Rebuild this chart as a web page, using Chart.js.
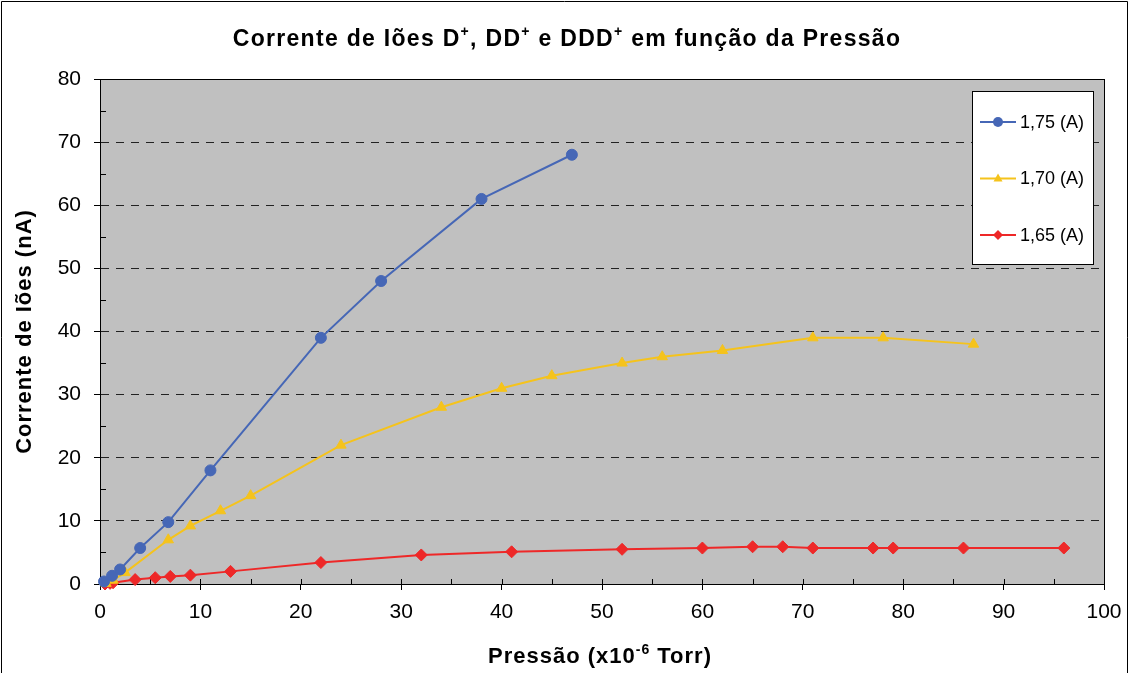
<!DOCTYPE html>
<html>
<head>
<meta charset="utf-8">
<script src="https://cdn.jsdelivr.net/npm/chart.js@4/dist/chart.umd.min.js"></script>
<style>
    html, body { margin: 0; padding: 0; background: #fff; }
    #wrap { width: 1135px; height: 673px; }
</style>
</head>
<body>
<div id="wrap"><canvas id="ionChart" width="1135" height="673"></canvas></div>
<script>
// values
const x175 = [0.4, 1.2, 2, 4, 6.8, 11, 22, 28, 38, 47];
const y175 = [0.4, 1.3, 2.3, 5.7, 9.8, 18, 39, 48, 61, 68];
const x170 = [0.6, 1.3, 2.5, 6.8, 9, 12, 15, 24, 34, 40, 45, 52, 56, 62, 71, 78, 87];
const y170 = [0.1, 0.6, 1.8, 7, 9.2, 11.6, 14, 22, 28, 31, 33, 35, 36, 37, 39, 39, 38];
const x165 = [0.5, 1, 1.3, 3.5, 5.5, 7, 9, 13, 22, 32, 41, 52, 60, 65, 68, 71, 77, 79, 86, 96];
const y165 = [0, 0.1, 0.2, 0.7, 1.0, 1.2, 1.4, 2.0, 3.4, 4.6, 5.1, 5.5, 5.7, 5.9, 5.9, 5.7, 5.7, 5.7, 5.7, 5.7];
const seriesNames = ["1,75 (A)", "1,70 (A)", "1,65 (A)"];
const seriesColors = ["#4667B6", "#F5C31C", "#EE2828"];
const seriesMarkers = ["circle", "triangle", "rectRot"];
const xTicks = [0, 10, 20, 30, 40, 50, 60, 70, 80, 90, 100];
const yTicks = [0, 10, 20, 30, 40, 50, 60, 70, 80];

const FONT = "'Liberation Sans', Arial, sans-serif";

function toPoints(xs, ys) {
    return xs.map(function (x, i) { return { x: x, y: ys[i] }; });
}

function makeDataset(i, xs, ys) {
    return {
        label: seriesNames[i],
        data: toPoints(xs, ys),
        borderColor: seriesColors[i],
        backgroundColor: seriesColors[i],
        borderWidth: 2,
        pointStyle: seriesMarkers[i],
        pointRadius: i === 0 ? 5.5 : 6,
        pointBorderWidth: 1,
        showLine: true,
        tension: 0,
        clip: false
    };
}

// bold text made of parts, superscript parts raised and smaller
function drawRich(ctx, parts, cx, cy, size, spacing) {
    let total = 0;
    ctx.letterSpacing = spacing + "px";
    parts.forEach(function (p) {
        ctx.font = "bold " + (p.sup ? Math.round(size * 0.62) : size) + "px " + FONT;
        p.w = ctx.measureText(p.t).width;
        total += p.w;
    });
    let x = cx - total / 2;
    ctx.textAlign = "left";
    ctx.textBaseline = "alphabetic";
    parts.forEach(function (p) {
        ctx.font = "bold " + (p.sup ? Math.round(size * 0.62) : size) + "px " + FONT;
        ctx.fillText(p.t, x, p.sup ? cy - size * 0.42 : cy);
        x += p.w;
    });
    ctx.letterSpacing = "0px";
}

function drawMarker(ctx, style, x, y, r) {
    ctx.beginPath();
    if (style === "circle") {
        ctx.arc(x, y, r, 0, Math.PI * 2);
    } else if (style === "triangle") {
        ctx.moveTo(x, y - r);
        ctx.lineTo(x + r * 0.9, y + r * 0.6);
        ctx.lineTo(x - r * 0.9, y + r * 0.6);
        ctx.closePath();
    } else {
        ctx.moveTo(x, y - r);
        ctx.lineTo(x + r, y);
        ctx.lineTo(x, y + r);
        ctx.lineTo(x - r, y);
        ctx.closePath();
    }
    ctx.fill();
}

const framePlugin = {
    id: "frame",
    beforeDraw: function (chart) {
        const ctx = chart.ctx;
        const a = chart.chartArea;
        ctx.save();
        ctx.fillStyle = "#fff";
        ctx.fillRect(0, 0, chart.width, chart.height);
        ctx.fillStyle = "#C0C0C0";
        ctx.fillRect(a.left, a.top, a.right - a.left, a.bottom - a.top);
        ctx.restore();
    },
    beforeDatasetsDraw: function (chart) {
        const ctx = chart.ctx;
        const a = chart.chartArea;
        const xs = chart.scales.x;
        const ys = chart.scales.y;
        ctx.save();
        ctx.strokeStyle = "#000";
        ctx.lineWidth = 1;
        ctx.strokeRect(a.left + 0.5, a.top + 0.5, a.right - a.left, a.bottom - a.top);
        // minor ticks inside the plot, major x ticks also cross the axis
        ctx.beginPath();
        for (let v = 5; v < 80; v += 10) {
            const py = Math.round(ys.getPixelForValue(v)) + 0.5;
            ctx.moveTo(a.left, py);
            ctx.lineTo(a.left + 6, py);
        }
        for (let v = 5; v < 100; v += 5) {
            const px = Math.round(xs.getPixelForValue(v)) + 0.5;
            ctx.moveTo(px, a.bottom);
            ctx.lineTo(px, a.bottom - 5);
        }
        ctx.stroke();
        ctx.restore();
    },
    afterDraw: function (chart) {
        const ctx = chart.ctx;
        const a = chart.chartArea;
        ctx.save();
        // outer frame
        ctx.strokeStyle = "#000";
        ctx.lineWidth = 1;
        ctx.beginPath();
        ctx.moveTo(1.5, chart.height);
        ctx.lineTo(1.5, 1.5);
        ctx.lineTo(1127.5, 1.5);
        ctx.lineTo(1127.5, chart.height);
        ctx.stroke();

        ctx.fillStyle = "#000";
        drawRich(ctx, [
            { t: "Corrente de Iões D" }, { t: "+", sup: true },
            { t: ", DD" }, { t: "+", sup: true },
            { t: " e DDD" }, { t: "+", sup: true },
            { t: " em função da Pressão" }
        ], 567, 46, 23, 1.3);
        drawRich(ctx, [
            { t: "Pressão (x10" }, { t: "-6", sup: true }, { t: " Torr)" }
        ], 600, 663, 22, 1);

        // y axis title
        ctx.save();
        ctx.translate(31, (a.top + a.bottom) / 2);
        ctx.rotate(-Math.PI / 2);
        ctx.textBaseline = "middle";
        drawRich(ctx, [{ t: "Corrente de Iões (nA)" }], 0, 0, 22, 1);
        ctx.restore();

        // legend box
        const lx = a.right - 132, ly = a.top + 12, lw = 121, lh = 173;
        ctx.fillStyle = "#fff";
        ctx.fillRect(lx, ly, lw, lh);
        ctx.strokeStyle = "#000";
        ctx.lineWidth = 1;
        ctx.strokeRect(lx + 0.5, ly + 0.5, lw, lh);
        chart.data.datasets.forEach(function (ds, i) {
            const cy = ly + 31 + i * 56.5;
            ctx.strokeStyle = ds.borderColor;
            ctx.lineWidth = 2;
            ctx.beginPath();
            ctx.moveTo(lx + 8, cy);
            ctx.lineTo(lx + 44, cy);
            ctx.stroke();
            ctx.fillStyle = ds.backgroundColor;
            drawMarker(ctx, ds.pointStyle, lx + 26, cy, 5);
            ctx.fillStyle = "#000";
            ctx.font = "18px " + FONT;
            ctx.textAlign = "left";
            ctx.textBaseline = "middle";
            ctx.fillText(ds.label, lx + 48, cy + 1);
        });
        ctx.restore();
    }
};

function chart() {
    const ctx = document.getElementById("ionChart").getContext("2d");
    const ionChart = new Chart(ctx, {
        type: "scatter",
        data: {
            datasets: [
                makeDataset(0, x175, y175),
                makeDataset(1, x170, y170),
                makeDataset(2, x165, y165)
            ]
        },
        options: {
            responsive: false,
            animation: false,
            layout: { padding: { top: 79, right: 31, left: 0, bottom: 0 } },
            plugins: {
                legend: { display: false },
                title: { display: false },
                tooltip: { enabled: false }
            },
            scales: {
                x: {
                    type: "linear",
                    min: 0,
                    max: 100,
                    afterFit: function (scale) { scale.height = 89; },
                    afterBuildTicks: function (scale) {
                        scale.ticks = xTicks.map(function (v) { return { value: v }; });
                    },
                    grid: { drawOnChartArea: false, drawTicks: true, tickLength: 6, color: "#000", tickColor: "#000" },
                    border: { display: true, color: "#000", width: 1 },
                    ticks: { color: "#000", font: { family: FONT, size: 21 }, padding: 10, maxRotation: 0 }
                },
                y: {
                    type: "linear",
                    min: 0,
                    max: 80,
                    afterFit: function (scale) { scale.width = 100; },
                    afterBuildTicks: function (scale) {
                        scale.ticks = yTicks.map(function (v) { return { value: v }; });
                    },
                    grid: {
                        color: function (c) { return (c.tick && (c.tick.value === 0 || c.tick.value === 80)) ? "rgba(0,0,0,0)" : "#222"; },
                        tickColor: "#000",
                        tickLength: 6,
                        lineWidth: 1
                    },
                    border: { display: true, color: "#000", width: 1, dash: [8, 7] },
                    ticks: { color: "#000", font: { family: FONT, size: 21 }, padding: 13 }
                }
            }
        },
        plugins: [framePlugin]
    });
    return ionChart;
}

chart();
</script>
</body>
</html>
